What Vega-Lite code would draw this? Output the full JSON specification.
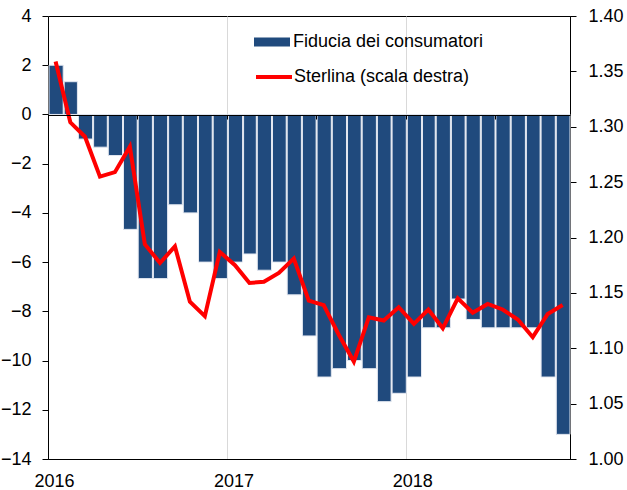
{
  "$schema": "https://vega.github.io/schema/vega-lite/v6.json",
  "width": 522,
  "height": 443,
  "autosize": {"type": "none"},
  "padding": {"left": 48, "top": 16, "right": 57, "bottom": 31},
  "background": "white",
  "config": {
    "view": {"stroke": "#000000", "strokeWidth": 1},
    "font": "Liberation Sans",
    "axis": {"labelFont": "Liberation Sans", "labelFontSize": 18, "labelColor": "#000000", "domainColor": "#000000", "tickColor": "#000000", "title": null}
  },
  "data": {"values": [
    {"date": "2016-01-01", "fiducia": 2, "sterlina": 1.359},
    {"date": "2016-02-01", "fiducia": 1.33, "sterlina": 1.304},
    {"date": "2016-03-01", "fiducia": -1, "sterlina": 1.291},
    {"date": "2016-04-01", "fiducia": -1.33, "sterlina": 1.255},
    {"date": "2016-05-01", "fiducia": -1.67, "sterlina": 1.259},
    {"date": "2016-06-01", "fiducia": -4.67, "sterlina": 1.282},
    {"date": "2016-07-01", "fiducia": -6.67, "sterlina": 1.194},
    {"date": "2016-08-01", "fiducia": -6.67, "sterlina": 1.177},
    {"date": "2016-09-01", "fiducia": -3.67, "sterlina": 1.192},
    {"date": "2016-10-01", "fiducia": -4, "sterlina": 1.142},
    {"date": "2016-11-01", "fiducia": -6, "sterlina": 1.129},
    {"date": "2016-12-01", "fiducia": -6.67, "sterlina": 1.187},
    {"date": "2017-01-01", "fiducia": -6, "sterlina": 1.175},
    {"date": "2017-02-01", "fiducia": -5.67, "sterlina": 1.159},
    {"date": "2017-03-01", "fiducia": -6.33, "sterlina": 1.160},
    {"date": "2017-04-01", "fiducia": -6, "sterlina": 1.168},
    {"date": "2017-05-01", "fiducia": -7.33, "sterlina": 1.181},
    {"date": "2017-06-01", "fiducia": -9, "sterlina": 1.143},
    {"date": "2017-07-01", "fiducia": -10.67, "sterlina": 1.139},
    {"date": "2017-08-01", "fiducia": -10.33, "sterlina": 1.112},
    {"date": "2017-09-01", "fiducia": -10, "sterlina": 1.088},
    {"date": "2017-10-01", "fiducia": -10.33, "sterlina": 1.128},
    {"date": "2017-11-01", "fiducia": -11.67, "sterlina": 1.125},
    {"date": "2017-12-01", "fiducia": -11.33, "sterlina": 1.137},
    {"date": "2018-01-01", "fiducia": -10.67, "sterlina": 1.122},
    {"date": "2018-02-01", "fiducia": -8.67, "sterlina": 1.135},
    {"date": "2018-03-01", "fiducia": -8.67, "sterlina": 1.118},
    {"date": "2018-04-01", "fiducia": -7.5, "sterlina": 1.145},
    {"date": "2018-05-01", "fiducia": -8.33, "sterlina": 1.132},
    {"date": "2018-06-01", "fiducia": -8.67, "sterlina": 1.140},
    {"date": "2018-07-01", "fiducia": -8.67, "sterlina": 1.135},
    {"date": "2018-08-01", "fiducia": -8.67, "sterlina": 1.126},
    {"date": "2018-09-01", "fiducia": -8.67, "sterlina": 1.110},
    {"date": "2018-10-01", "fiducia": -10.67, "sterlina": 1.131},
    {"date": "2018-11-01", "fiducia": -13, "sterlina": 1.139}
  ]},
  "layer": [
    {
      "mark": {"type": "bar", "stroke": "#e4e8f1", "strokeWidth": 1},
      "encoding": {
        "x": {
          "field": "date", "timeUnit": "utcyearmonth", "type": "temporal",
          "scale": {"type": "utc", "domain": [{"year": 2016, "month": 1, "date": 1, "utc": true}, {"year": 2018, "month": 12, "date": 1, "utc": true}], "nice": false},
          "axis": {"orient": "bottom", "format": "%Y", "tickCount": {"interval": "year", "step": 1}, "ticks": false, "domain": true, "grid": true, "gridColor": "#d9d9d9", "gridWidth": 1, "labelOffset": 6, "labelPadding": 13, "labelAlign": "center", "labelFlush": false}
        },
        "y": {
          "field": "fiducia", "type": "quantitative",
          "scale": {"domain": [-14, 4], "nice": false, "zero": false},
          "axis": {"orient": "left", "values": [-14, -12, -10, -8, -6, -4, -2, 0, 2, 4], "tickSize": 6, "labelPadding": 11, "grid": false}
        },
        "fill": {
          "datum": "Fiducia dei consumatori", "type": "nominal",
          "scale": {"range": ["#204a7d"]},
          "legend": {"title": null, "orient": "none", "legendX": 206, "legendY": 8, "padding": 0, "symbolType": "M-1,-0.25H1V0.25H-1Z", "symbolSize": 1296, "symbolStrokeWidth": 0, "labelFontSize": 18, "labelFont": "Liberation Sans", "labelColor": "#000000", "labelOffset": 3, "labelLimit": 400}
        }
      }
    },
    {
      "mark": {"type": "line", "strokeWidth": 4, "strokeJoin": "miter"},
      "encoding": {
        "x": {
          "field": "date", "timeUnit": "utcyearmonth", "type": "temporal", "bandPosition": 0.5,
          "scale": {"type": "utc", "domain": [{"year": 2016, "month": 1, "date": 1, "utc": true}, {"year": 2018, "month": 12, "date": 1, "utc": true}], "nice": false},
          "axis": {"orient": "bottom", "offset": -344, "labels": false, "grid": false, "tickCount": {"interval": "month", "step": 6}, "tickSize": 4, "domain": true, "domainColor": "#000000", "zindex": 1}
        },
        "y": {
          "field": "sterlina", "type": "quantitative",
          "scale": {"domain": [1.0, 1.4], "nice": false, "zero": false},
          "axis": {"orient": "right", "values": [1.0, 1.05, 1.1, 1.15, 1.2, 1.25, 1.3, 1.35, 1.4], "format": ".2f", "tickSize": 6, "labelPadding": 12, "grid": false}
        },
        "stroke": {
          "datum": "Sterlina (scala destra)", "type": "nominal",
          "scale": {"range": ["#ff0000"]},
          "legend": {"title": null, "orient": "none", "legendX": 206, "legendY": 41, "padding": 0, "symbolType": "stroke", "symbolSize": 1296, "symbolStrokeWidth": 4, "labelFontSize": 18, "labelFont": "Liberation Sans", "labelColor": "#000000", "labelOffset": 0, "labelLimit": 400}
        }
      }
    }
  ],
  "resolve": {"scale": {"x": "independent", "y": "independent"}, "axis": {"x": "independent", "y": "independent"}}
}
